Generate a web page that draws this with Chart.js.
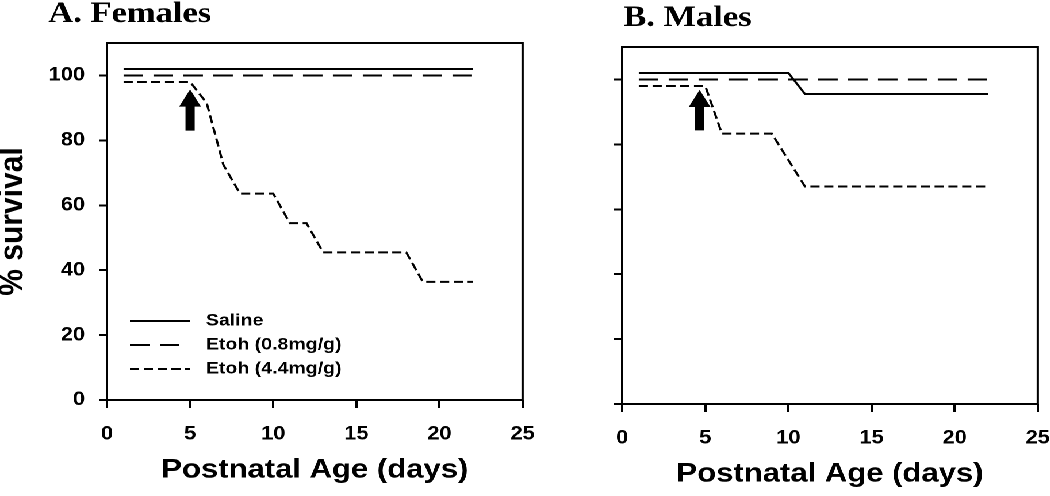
<!DOCTYPE html>
<html>
<head>
<meta charset="utf-8">
<script src="https://cdn.jsdelivr.net/npm/chart.js@4/dist/chart.umd.min.js"></script>
<style>
html, body { margin: 0; padding: 0; background: #fff; overflow: hidden; }
/* the original figure is drawn a little wide, so the whole stage is stretched */
#stage { position: relative; width: 913px; height: 496px; transform: scaleX(1.15); transform-origin: 0 0; }
#femaleChart { position: absolute; left: 0; top: 0; }
#maleChart { position: absolute; left: 450px; top: 4px; }
</style>
</head>
<body>
<div id="stage">
  <canvas id="femaleChart" width="480" height="496"></canvas>
  <canvas id="maleChart" width="478" height="496"></canvas>
</div>
<script>
// Panel A - females
const femaleSalineDays = [1, 22];
const femaleSalineSurvival = [102, 102];
const femaleLowDays = [1, 22];
const femaleLowSurvival = [100, 100];
const femaleHighDays = [1, 5, 6, 7, 8, 10, 11, 12, 13, 18, 19, 22];
const femaleHighSurvival = [98, 98, 91.5, 72.5, 63.6, 63.6, 54.5, 54.5, 45.5, 45.5, 36.4, 36.4];

// Panel B - males
const maleSalineDays = [1, 10, 11, 22];
const maleSalineSurvival = [102, 102, 95.5, 95.5];
const maleLowDays = [1, 22];
const maleLowSurvival = [100, 100];
const maleHighDays = [1, 5, 6, 9, 11, 22];
const maleHighSurvival = [98, 98, 83.3, 83.3, 67, 67];

const seriesLabels = ['Saline', 'Etoh (0.8mg/g)', 'Etoh (4.4mg/g)'];

// arrow: day, tip, head base, tail (axis units)
const femaleArrow = [5, 95.7, 90.4, 83];
const maleArrow = [4.66, 96.8, 91.5, 84.3];

const SANS = "'Liberation Sans', Arial, sans-serif";
const SERIF = "'Liberation Serif', 'Times New Roman', serif";
Chart.defaults.font.family = SANS;
Chart.defaults.color = '#000';

const dashStyles = [[], [17, 9], [8, 4]];

function toPoints(days, values) {
    return days.map((d, i) => ({ x: d, y: values[i] }));
}

// box around the plot, panel title, arrow and (optional) legend
const panelDecor = {
    id: 'panelDecor',
    afterDraw(chart, args, opts) {
        const ctx = chart.ctx;
        const area = chart.chartArea;
        const xs = chart.scales.x;
        const ys = chart.scales.y;
        ctx.save();
        ctx.strokeStyle = '#000';
        ctx.lineWidth = 2;
        ctx.setLineDash([]);
        ctx.strokeRect(area.left, area.top, area.right - area.left, area.bottom - area.top);

        // title
        ctx.fillStyle = '#000';
        ctx.font = 'bold 30px ' + SERIF;
        ctx.textAlign = 'left';
        ctx.textBaseline = 'alphabetic';
        ctx.fillText(opts.title, opts.titleX, 22);

        // arrow
        const a = opts.arrow;
        const x = xs.getPixelForValue(a[0]);
        const yTip = ys.getPixelForValue(a[1]);
        const yBase = ys.getPixelForValue(a[2]);
        const yTail = ys.getPixelForValue(a[3]);
        ctx.beginPath();
        ctx.moveTo(x, yTip);
        ctx.lineTo(x + 9.5, yBase);
        ctx.lineTo(x + 4, yBase);
        ctx.lineTo(x + 4, yTail);
        ctx.lineTo(x - 4, yTail);
        ctx.lineTo(x - 4, yBase);
        ctx.lineTo(x - 9.5, yBase);
        ctx.closePath();
        ctx.fill();

        // legend inside the plot
        if (opts.legend) {
            ctx.font = 'bold 17px ' + SANS;
            ctx.textBaseline = 'middle';
            chart.data.datasets.forEach((ds, i) => {
                const y = area.bottom - 79 + i * 24;
                ctx.beginPath();
                ctx.setLineDash(ds.borderDash || []);
                ctx.lineWidth = 2;
                ctx.moveTo(area.left + 20, y);
                ctx.lineTo(area.left + 72, y);
                ctx.stroke();
                ctx.setLineDash([]);
                ctx.fillText(ds.label, area.left + 86, y);
            });
        }
        ctx.restore();
    }
};

function makeChart(canvasId, series, cfg) {
    const datasets = series.map((s, i) => ({
        label: seriesLabels[i],
        data: toPoints(s[0], s[1]),
        borderColor: '#000',
        borderWidth: 2,
        borderDash: dashStyles[i],
        pointRadius: 0,
        tension: 0,
        fill: false
    }));
    return new Chart(document.getElementById(canvasId), {
        type: 'line',
        data: { datasets: datasets },
        plugins: [panelDecor],
        options: {
            responsive: false,
            animation: false,
            devicePixelRatio: 2,
            layout: { padding: { top: 43, right: 0, bottom: 0, left: 0 } },
            plugins: {
                legend: { display: false },
                tooltip: { enabled: false },
                panelDecor: { title: cfg.title, titleX: cfg.titleX, arrow: cfg.arrow, legend: cfg.legend }
            },
            scales: {
                x: {
                    type: 'linear',
                    min: 0,
                    max: 25,
                    afterFit: s => { s.height = 96; },
                    border: { display: false },
                    grid: { drawOnChartArea: false, tickLength: 8, tickWidth: 2, tickColor: '#000' },
                    ticks: { stepSize: 5, padding: 15, maxRotation: 0, color: '#000', font: { size: 19, weight: 'bold' } },
                    title: {
                        display: true,
                        text: 'Postnatal Age (days)',
                        color: '#000',
                        font: { size: 27, weight: 'bold', lineHeight: 1.2 },
                        padding: { top: 0, bottom: 10 }
                    }
                },
                y: {
                    type: 'linear',
                    min: 0,
                    max: 110,
                    afterFit: s => { s.width = cfg.yWidth; },
                    border: { display: false },
                    grid: { drawOnChartArea: false, tickLength: 7, tickWidth: 2, tickColor: '#000' },
                    ticks: {
                        display: cfg.yLabels,
                        stepSize: 20,
                        includeBounds: false,
                        padding: 12,
                        color: '#000',
                        font: { size: 19, weight: 'bold' }
                    },
                    title: {
                        display: cfg.yLabels,
                        text: '% survival',
                        color: '#000',
                        font: { size: 30, weight: 'bold', lineHeight: 0.75 },
                        padding: 0
                    }
                }
            }
        }
    });
}

makeChart('femaleChart', [
    [femaleSalineDays, femaleSalineSurvival],
    [femaleLowDays, femaleLowSurvival],
    [femaleHighDays, femaleHighSurvival]
], { title: 'A. Females', titleX: 42, arrow: femaleArrow, legend: true, yLabels: true, yWidth: 93 });

makeChart('maleChart', [
    [maleSalineDays, maleSalineSurvival],
    [maleLowDays, maleLowSurvival],
    [maleHighDays, maleHighSurvival]
], { title: 'B. Males', titleX: 92, arrow: maleArrow, legend: false, yLabels: false, yWidth: 91 });
</script>
</body>
</html>
